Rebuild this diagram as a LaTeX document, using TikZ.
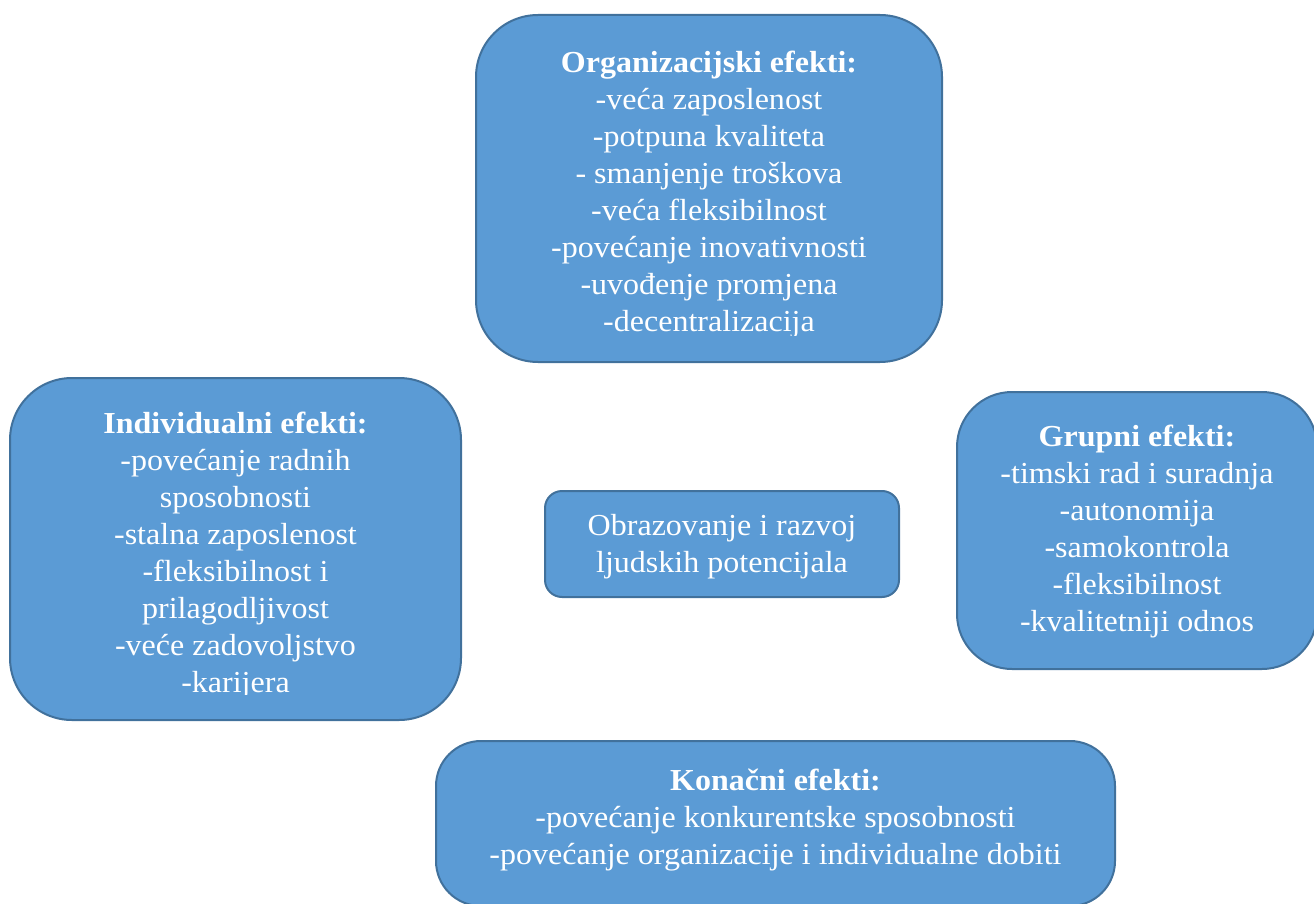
\documentclass[tikz,border=0pt]{standalone}
\usepackage{fontspec}
\setmainfont{Liberation Serif}[FakeStretch=1.05]
\definecolor{boxfill}{HTML}{5B9BD5}
\definecolor{boxline}{HTML}{41719C}
\begin{document}
\begin{tikzpicture}[x=1pt,y=-1pt,
  effbox/.style={draw=boxline, fill=boxfill, line width=2pt, inner sep=0pt},
  efftext/.style={text=white, align=center, inner sep=0pt, font=\fontsize{30.5}{37}\selectfont},
]
\useasboundingbox (0,0) rectangle (1314,904);
\clip (0,0) rectangle (1314,904);
% boxes
\node[effbox, rounded corners=62pt, minimum width=466pt, minimum height=347pt] (org) at (709,188.5) {};
\node[effbox, rounded corners=62pt, minimum width=451pt, minimum height=342pt] (ind) at (235.5,549) {};
\node[effbox, rounded corners=55pt, minimum width=360pt, minimum height=277pt] (grp) at (1137,530.5) {};
\node[effbox, rounded corners=17pt, minimum width=354pt, minimum height=106pt] (cen) at (722,544) {};
\node[effbox, rounded corners=45pt, minimum width=679pt, minimum height=165pt] (kon) at (775.5,823.5) {};
% texts
\begin{scope}
  \clip (480,20) rectangle (940,335);
  \node[efftext, yshift=-6.5pt] (orgtxt) at (org)
    {\textbf{Organizacijski efekti:}\\-veća zaposlenost\\-potpuna kvaliteta\\- smanjenje troškova\\-veća fleksibilnost\\-povećanje inovativnosti\\-uvođenje promjena\\-decentralizacija};
\end{scope}
\begin{scope}
  \clip (12,380) rectangle (460,694);
  \node[efftext, yshift=-7pt] (indtxt) at (ind)
    {\textbf{Individualni efekti:}\\-povećanje radnih\\sposobnosti\\-stalna zaposlenost\\-fleksibilnost i\\prilagodljivost\\-veće zadovoljstvo\\-karijera};
\end{scope}
\node[efftext, yshift=-1pt] (grptxt) at (grp)
  {\textbf{Grupni efekti:}\\-timski rad i suradnja\\-autonomija\\-samokontrola\\-fleksibilnost\\-kvalitetniji odnos};
\node[efftext, yshift=-2.5pt] (centxt) at (cen)
  {Obrazovanje i razvoj\\ljudskih potencijala};
\node[efftext, yshift=3.5pt] (kontxt) at (kon)
  {\textbf{Konačni efekti:}\\-povećanje konkurentske sposobnosti\\-povećanje organizacije i individualne dobiti};
\end{tikzpicture}
\end{document}
